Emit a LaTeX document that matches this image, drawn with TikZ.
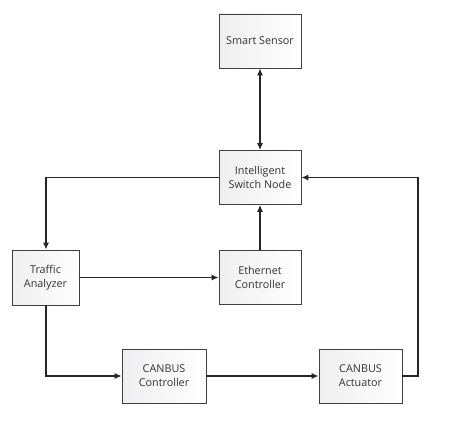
\documentclass[tikz,border=0pt]{standalone}
\usepackage{fontspec}
\setmainfont{Open Sans}
\usetikzlibrary{arrows.meta}
\newcommand{\blkfont}{\fontsize{10.8pt}{14pt}\selectfont}
\begin{document}
\begin{tikzpicture}[x=1pt,y=-1pt,
  blk/.style={draw=black!75, line width=0.9pt, minimum width=82pt, minimum height=54pt, align=center,
    left color=blue!6!gray!12, right color=white, font=\blkfont, text=black!80, inner sep=0pt},
  conn/.style={draw=black!85, line width=1.1pt, -{Latex[length=7pt,width=6pt]}}]
\useasboundingbox (0,0) rectangle (474,428);
\node[blk] (ss) at (260,41) {Smart Sensor};
\node[blk] (isn) at (260,177.5) {Intelligent\\Switch Node};
\node[blk, minimum width=67pt, minimum height=55pt] (ta) at (45.5,277.5) {Traffic\\Analyzer};
\node[blk] (ec) at (260,277.5) {Ethernet\\Controller};
\node[blk, minimum width=84pt] (cc) at (164,376) {CANBUS\\Controller};
\node[blk, minimum width=83pt] (ca) at (360.5,376) {CANBUS\\Actuator};
\coordinate (c1) at (46,177.5);
\coordinate (c2) at (46,376);
\coordinate (c3) at (418,376);
\coordinate (c4) at (418,177.5);
\draw[conn, {Latex[length=7pt,width=6pt]}-{Latex[length=7pt,width=6pt]}] (ss) -- (isn);
\draw[conn] (isn.west) -- (c1) -- (ta.north -| c1);
\draw[conn] (ec) -- (isn);
\draw[conn] (ta.east) -- (ec.west);
\draw[conn] (ta.south -| c2) -- (c2) -- (cc.west);
\draw[conn] (cc) -- (ca);
\draw[conn] (ca.east) -- (c3) -- (c4) -- (isn.east);
\end{tikzpicture}
\end{document}
